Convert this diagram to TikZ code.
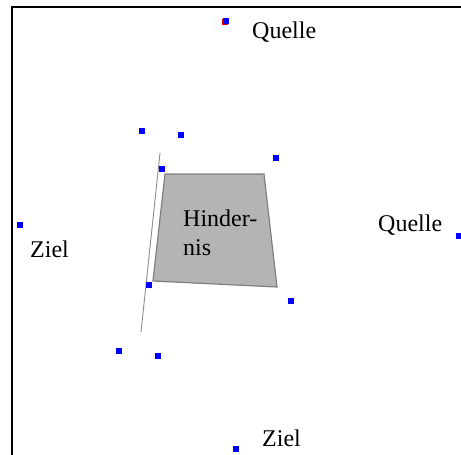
\documentclass[tikz,border=0pt]{standalone}
\usepackage{fontspec}
\setmainfont{Liberation Serif}
\usepackage{xcolor}
\usetikzlibrary{positioning}
\definecolor{ptblue}{HTML}{0000FF}
\definecolor{obstfill}{HTML}{B4B4B4}
\definecolor{obstdraw}{HTML}{7F7F7F}
\definecolor{wallgray}{HTML}{8C8C8C}

\begin{document}
\begin{tikzpicture}[
  x=1pt, y=-1pt,
  pt/.style={fill=ptblue, draw=none, minimum size=6pt, inner sep=0pt, outer sep=0pt},
  lbl/.style={anchor=base west, inner sep=0pt, font=\fontsize{24}{29}\selectfont},
  obst/.style={fill=obstfill, draw=obstdraw, line width=1.2pt, line join=miter},
  wall/.style={draw=wallgray, line width=0.9pt}
]
  \useasboundingbox (0,0) rectangle (461,455);
  % frame, only top and left edges
  \draw[line width=1.6pt] (12,455) -- (12,7) -- (461,7);

  % obstacle and the tangent line beside it
  \coordinate (h1) at (165,174);
  \coordinate (h2) at (264,174);
  \coordinate (h3) at (277,287);
  \coordinate (h4) at (153,281);
  \draw[obst] (h1) -- (h2) -- (h3) -- (h4) -- cycle;
  \node[lbl, align=left] (hind) at (183,255) {Hinder-\\nis};
  \coordinate (w1) at (160,153);
  \coordinate (w2) at (141,332);
  \draw[wall] (w1) -- (w2);

  % sources and targets
  \node[pt, fill=red] at (224.5,22) {};
  \node[pt] (q1) at (226,21) {};
  \node[pt] (q2) at (459,236) {};
  \node[pt] (z1) at (20,225) {};
  \node[pt] (z2) at (236,449) {};
  \node[lbl] (lq1) at (252,38) {Quelle};
  \node[lbl] (lq2) at (378,231) {Quelle};
  \node[lbl] (lz1) at (30,257) {Ziel};
  \node[lbl] (lz2) at (262,446) {Ziel};

  % sample points round the obstacle
  \node[pt] (p1) at (142,131) {};
  \node[pt] (p2) at (181,135) {};
  \node[pt] (p3) at (276,158) {};
  \node[pt] (p4) at (162,169) {};
  \node[pt] (p5) at (149,285) {};
  \node[pt] (p6) at (291,301) {};
  \node[pt] (p7) at (119,351) {};
  \node[pt] (p8) at (158,356) {};
\end{tikzpicture}
\end{document}
